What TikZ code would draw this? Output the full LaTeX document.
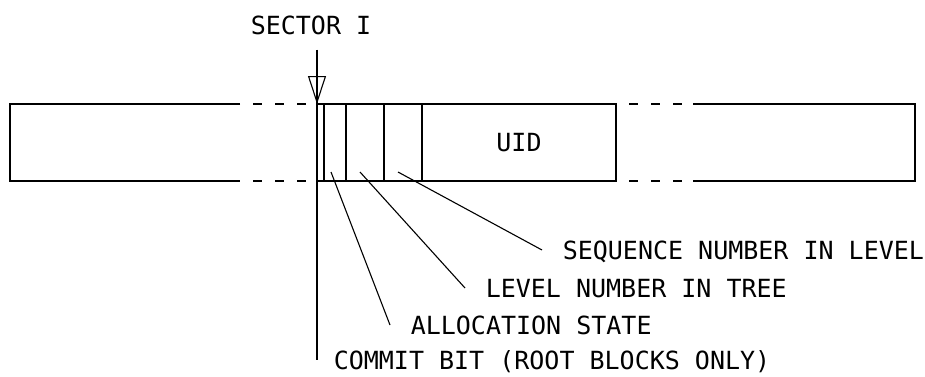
\documentclass[tikz,border=0pt]{standalone}
\usepackage{fontspec}
\setmonofont{DejaVu Sans Mono}
\usetikzlibrary{arrows.meta}
\begin{document}
\begin{tikzpicture}[x=1pt,y=-1pt,line width=1.5pt,
  font=\ttfamily\fontsize{25}{25}\selectfont,
  fieldbox/.style={draw,minimum height=77pt,inner sep=0pt,outer sep=0pt,anchor=west},
  dashgap/.style={dash pattern=on 9pt off 13pt,dash phase=9pt},
  notetext/.style={anchor=west,inner xsep=20pt,inner ysep=0pt,text height=18pt,text depth=0pt},
  leader/.style={line width=1.1pt}]
\useasboundingbox (0,0) rectangle (925,376);
\node[text height=18pt,text depth=0pt,inner ysep=15pt] (sector) at (311,25) {SECTOR I};
% the sector fields
\node[fieldbox,minimum width=7pt] (commit) at (317,142.5) {};
\node[fieldbox,minimum width=22pt] (alloc) at (commit.east) {};
\node[fieldbox,minimum width=38pt] (level) at (alloc.east) {};
\node[fieldbox,minimum width=38pt] (seqn) at (level.east) {};
\node[fieldbox,minimum width=194pt] (uid) at (seqn.east) {UID};
% neighbouring sectors
\draw (240,104) -- (10,104) -- (10,181) -- (240,181);
\draw[dashgap] (240,104) -- (commit.north west);
\draw[dashgap] (240,181) -- (commit.south west);
\draw[dashgap] (uid.north east) -- (693,104);
\draw[dashgap] (uid.south east) -- (693,181);
\draw (693,104) -- (915,104) -- (915,181) -- (693,181);
% labels
\node[notetext,inner xsep=16pt] (commitlab) at (317,360) {COMMIT BIT (ROOT BLOCKS ONLY)};
\node[notetext] (alloclab) at (390,325) {ALLOCATION STATE};
\node[notetext] (levellab) at (465,288) {LEVEL NUMBER IN TREE};
\node[notetext] (seqlab) at (542,250) {SEQUENCE NUMBER IN LEVEL};
\coordinate (allocpt) at (331,172);
\coordinate (levelpt) at (360,172);
\coordinate (seqpt) at (398,172);
\draw[leader] (sector.south -| commit.west) -- (commitlab.west);
\draw[leader,-{Triangle[open,length=28pt,width=18pt]}] (sector.south -| commit.west) -- (commit.north west);
\draw[leader] (allocpt) -- (alloclab.west);
\draw[leader] (levelpt) -- (levellab.west);
\draw[leader] (seqpt) -- (seqlab.west);
\end{tikzpicture}
\end{document}
